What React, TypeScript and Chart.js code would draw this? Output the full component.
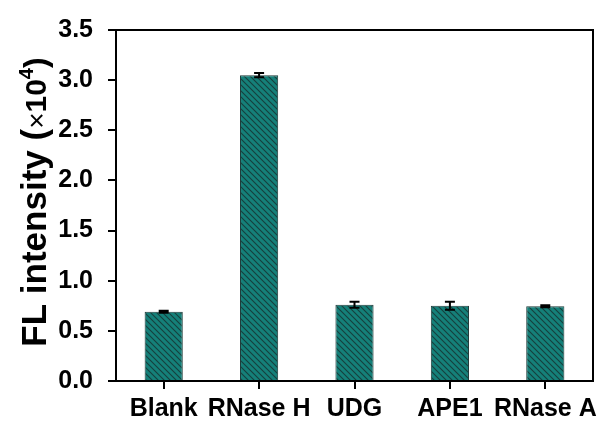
import React, { useEffect, useRef } from "react";
import { Chart, registerables } from "chart.js";

Chart.register(...registerables);

const categories = ["Blank", "RNase H", "UDG", "APE1", "RNase A"];
const intensity = [0.69, 3.05, 0.76, 0.75, 0.745];
const errors = [0.01, 0.02, 0.03, 0.04, 0.01];
const yMin = 0;
const yMax = 3.5;
const yStep = 0.5;

const FONT = "'Liberation Sans', Arial, sans-serif";

const errorBarPlugin = {
  id: "errorBars",
  afterDatasetsDraw(chart: any) {
    const ctx = chart.ctx;
    const meta = chart.getDatasetMeta(0);
    const ys = chart.scales.y;
    ctx.save();
    ctx.strokeStyle = "#000";
    ctx.lineWidth = 2;
    meta.data.forEach((bar: any, i: number) => {
      const x = bar.x;
      const top = ys.getPixelForValue(intensity[i] + errors[i]);
      const bot = ys.getPixelForValue(intensity[i] - errors[i]);
      ctx.beginPath();
      ctx.moveTo(x, top);
      ctx.lineTo(x, bot);
      ctx.moveTo(x - 5, top);
      ctx.lineTo(x + 5, top);
      ctx.moveTo(x - 5, bot);
      ctx.lineTo(x + 5, bot);
      ctx.stroke();
    });
    ctx.restore();
  },
};

const framePlugin = {
  id: "frame",
  afterDraw(chart: any) {
    const { ctx, chartArea } = chart;
    const xs = chart.scales.x;
    const ys = chart.scales.y;
    ctx.save();
    ctx.strokeStyle = "#000";
    ctx.lineWidth = 2;
    ctx.lineCap = "butt";
    ctx.beginPath();
    ctx.moveTo(chartArea.left, chartArea.top - 1);
    ctx.lineTo(chartArea.left, chartArea.bottom + 1);
    ctx.moveTo(chartArea.left - 1, chartArea.bottom);
    ctx.lineTo(chartArea.right + 1, chartArea.bottom);
    ctx.moveTo(chartArea.left - 1, chartArea.top);
    ctx.lineTo(chartArea.right + 1, chartArea.top);
    ctx.moveTo(chartArea.right, chartArea.top - 1);
    ctx.lineTo(chartArea.right, chartArea.bottom + 1);
    ys.ticks.forEach((t: any) => {
      const y = Math.round(ys.getPixelForValue(t.value));
      ctx.moveTo(chartArea.left - 8, y);
      ctx.lineTo(chartArea.left, y);
    });
    categories.forEach((_c, i) => {
      const x = Math.round(xs.getPixelForTick(i));
      ctx.moveTo(x, chartArea.bottom);
      ctx.lineTo(x, chartArea.bottom + 8);
    });
    ctx.stroke();
    ctx.restore();
  },
};

const yTitlePlugin = {
  id: "yTitle",
  afterDraw(chart: any) {
    const ctx = chart.ctx;
    const parts = [
      { t: "FL intensity (", f: `bold 35px ${FONT}`, dy: 0 },
      { t: "\u00d7", f: `28px ${FONT}`, dy: 0 },
      { t: "10", f: `bold 30px ${FONT}`, dy: 0 },
      { t: "4", f: `bold 20px ${FONT}`, dy: -13 },
      { t: ")", f: `bold 32px ${FONT}`, dy: 0 },
    ];
    ctx.save();
    let total = 0;
    const widths = parts.map((p) => {
      ctx.font = p.f;
      const w = ctx.measureText(p.t).width;
      total += w;
      return w;
    });
    ctx.translate(46, 202);
    ctx.rotate(-Math.PI / 2);
    ctx.fillStyle = "#000";
    ctx.textBaseline = "alphabetic";
    ctx.textAlign = "left";
    let x = -total / 2;
    parts.forEach((p, i) => {
      ctx.font = p.f;
      ctx.fillText(p.t, x, p.dy);
      x += widths[i];
    });
    ctx.restore();
  },
};

export default function App() {
  const canvasRef = useRef<HTMLCanvasElement | null>(null);

  useEffect(() => {
    const canvas = canvasRef.current;
    if (!canvas) return;
    const ctx = canvas.getContext("2d")!;

    const tile = document.createElement("canvas");
    const s = 6;
    tile.width = s;
    tile.height = s;
    const g = tile.getContext("2d")!;
    g.fillStyle = "#158079";
    g.fillRect(0, 0, s, s);
    g.strokeStyle = "#163f3d";
    g.lineWidth = 1.1;
    g.beginPath();
    g.moveTo(-1, -1);
    g.lineTo(s + 1, s + 1);
    g.moveTo(-1, s - 1);
    g.lineTo(1, s + 1);
    g.moveTo(s - 1, -1);
    g.lineTo(s + 1, 1);
    g.stroke();
    const pattern = ctx.createPattern(tile, "repeat");

    const chart = new Chart(canvas, {
      type: "bar",
      data: {
        labels: categories,
        datasets: [
          {
            data: intensity,
            backgroundColor: pattern as any,
            borderColor: "#1b3a38",
            borderWidth: 1,
            barPercentage: 0.4,
            categoryPercentage: 1,
          },
        ],
      },
      options: {
        responsive: false,
        animation: false,
        layout: { padding: { left: 0, top: 25, right: 20, bottom: 0 } },
        plugins: {
          legend: { display: false },
          tooltip: { enabled: false },
          title: { display: false },
        },
        scales: {
          x: {
            offset: true,
            grid: { display: false },
            border: { display: false },
            ticks: {
              color: "#000",
              font: { family: FONT, size: 25, weight: "bold" },
              padding: 5,
              maxRotation: 0,
              autoSkip: false,
            },
            afterFit(scale: any) {
              scale.height = 44;
            },
          },
          y: {
            min: yMin,
            max: yMax,
            grid: { display: false },
            border: { display: false },
            ticks: {
              stepSize: yStep,
              color: "#000",
              font: { family: FONT, size: 25, weight: "bold" },
              padding: 15,
              callback: (v: any) => Number(v).toFixed(1),
            },
            afterFit(scale: any) {
              scale.width = 116;
            },
          },
        },
      },
      plugins: [errorBarPlugin, framePlugin, yTitlePlugin],
    });

    return () => chart.destroy();
  }, []);

  return (
    <canvas
      ref={canvasRef}
      width={613}
      height={425}
      style={{ position: "fixed", left: 0, top: 0, display: "block", background: "#fff" }}
    />
  );
}
